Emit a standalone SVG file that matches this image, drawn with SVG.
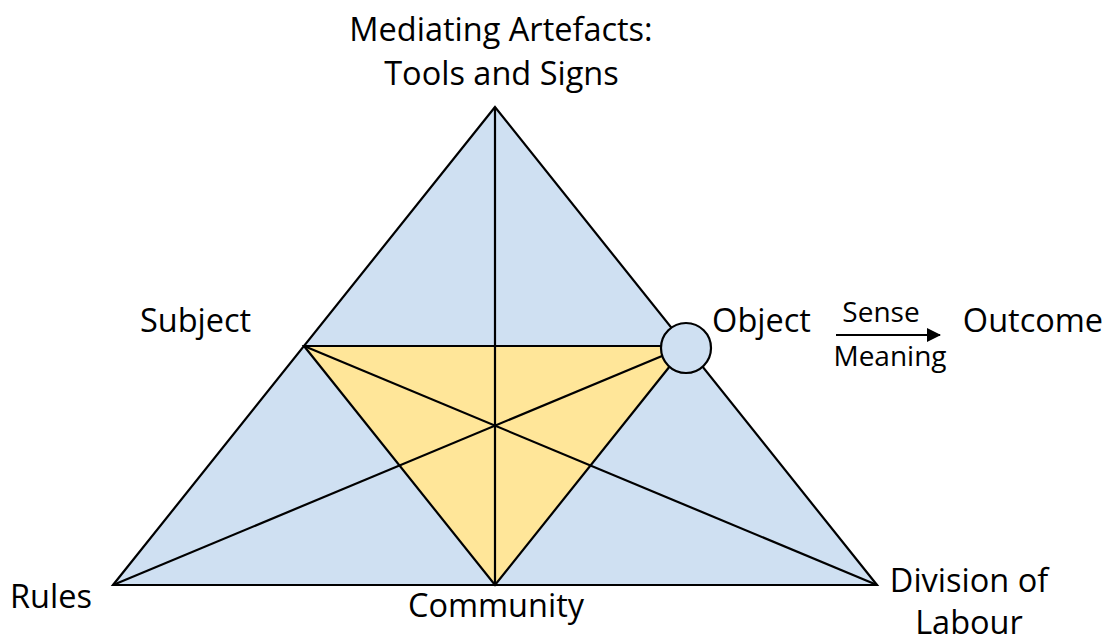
<svg xmlns="http://www.w3.org/2000/svg" width="1112" height="643" viewBox="0 0 1112 643">
<style>
.lbl{font-family:"Open Sans","Liberation Sans",sans-serif;font-size:32.5px;fill:#000}
.sm{font-family:"Open Sans","Liberation Sans",sans-serif;font-size:28px;fill:#000}
.ln{stroke:#000;stroke-width:2.2;fill:none}
</style>
<defs>
<marker id="ah" markerWidth="14" markerHeight="14" refX="13" refY="7" orient="auto" markerUnits="userSpaceOnUse">
<path d="M0,0 L14,7 L0,14 Z" fill="#000"/>
</marker>
</defs>
<rect width="1112" height="643" fill="#fff"/>
<g id="outer-triangle">
<polygon points="495,107 113,585 877,585" fill="#cfe0f2" stroke="#000" stroke-width="2.2" stroke-linejoin="miter"/>
</g>
<g id="inner-triangle">
<polygon points="304,346 686,346 495,585" fill="#ffe699" stroke="#000" stroke-width="2.2"/>
</g>
<g id="connectors">
<line class="ln" x1="495" y1="107" x2="495" y2="585"/>
<line class="ln" x1="113" y1="585" x2="686" y2="346"/>
<line class="ln" x1="877" y1="585" x2="304" y2="346"/>
<line class="ln" x1="836" y1="335" x2="940" y2="335" marker-end="url(#ah)"/>
</g>
<g id="object-circle">
<circle cx="686" cy="348" r="25" fill="#cfe0f2" stroke="#000" stroke-width="2.2"/>
</g>
<g id="labels">
<text class="lbl" x="501" y="41" text-anchor="middle">Mediating Artefacts:</text>
<text class="lbl" x="501.5" y="85" text-anchor="middle">Tools and Signs</text>
<text class="lbl" x="195.5" y="332" text-anchor="middle">Subject</text>
<text class="lbl" x="761.5" y="332" text-anchor="middle">Object</text>
<text class="lbl" x="1033" y="332" text-anchor="middle">Outcome</text>
<text class="lbl" x="51" y="608" text-anchor="middle">Rules</text>
<text class="lbl" x="496" y="617" text-anchor="middle">Community</text>
<text class="lbl" x="969" y="592" text-anchor="middle">Division of</text>
<text class="lbl" x="969" y="634" text-anchor="middle">Labour</text>
<text class="sm" x="881" y="322" text-anchor="middle">Sense</text>
<text class="sm" x="890" y="366" text-anchor="middle">Meaning</text>
</g>
</svg>
